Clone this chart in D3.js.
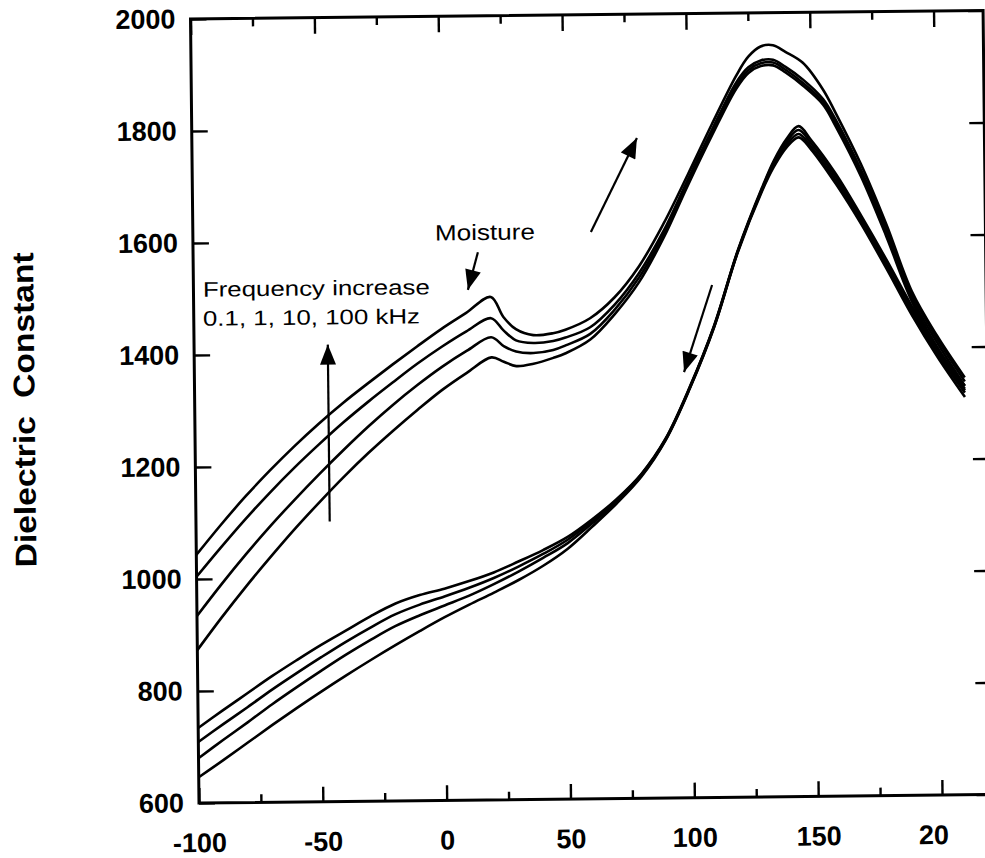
<!DOCTYPE html>
<html>
<head>
<meta charset="utf-8">
<script src="https://cdn.jsdelivr.net/npm/d3@7"></script>
<style>
  body { margin: 0; background: #fff; }
  svg { display: block; }
  text { font-family: "Liberation Sans", Arial, Helvetica, sans-serif; fill: #000; }
</style>
</head>
<body>
<div id="chart"></div>
<script>
// heating run (upper family), temperature in C
var heatT = [-100, -90, -80, -70, -60, -50, -40, -30, -20, -10, 0, 10, 20, 25, 30, 37, 45, 50, 60, 70,
    80, 90, 100, 110, 120, 125, 130, 135, 140, 147, 155, 160, 170, 180, 190, 200, 211]
var heat01 = [1043, 1096, 1146, 1192, 1235, 1275, 1312, 1346, 1379, 1411, 1442, 1470, 1498, 1462, 1440, 1429, 1432, 1438, 1458, 1495,
    1550, 1625, 1712, 1802, 1888, 1922, 1940, 1942, 1930, 1910, 1862, 1820, 1728, 1620, 1500, 1420, 1345]
var heat1 = [1004, 1056, 1106, 1153, 1197, 1238, 1277, 1313, 1347, 1380, 1410, 1437, 1460, 1438, 1420, 1415, 1418, 1424, 1442, 1482,
    1538, 1612, 1703, 1792, 1876, 1903, 1915, 1916, 1903, 1880, 1845, 1808, 1718, 1612, 1495, 1415, 1338]
var heat10 = [934, 990, 1043, 1093, 1140, 1185, 1228, 1269, 1307, 1342, 1374, 1402, 1426, 1410, 1400, 1397, 1402, 1410, 1430, 1473,
    1530, 1606, 1698, 1787, 1870, 1898, 1910, 1911, 1898, 1874, 1840, 1802, 1712, 1605, 1488, 1408, 1330]
var heat100 = [873, 931, 986, 1038, 1088, 1135, 1180, 1222, 1261, 1298, 1333, 1363, 1390, 1382, 1374, 1378, 1388, 1396, 1420, 1465,
    1522, 1600, 1693, 1782, 1865, 1893, 1905, 1906, 1893, 1869, 1835, 1796, 1706, 1598, 1482, 1400, 1322]

// cooling run (lower family)
var coolT = [-100, -90, -80, -70, -60, -50, -40, -30, -20, -10, 0, 10, 20, 30, 40, 50, 60, 70, 80, 90,
    100, 110, 120, 130, 135, 140, 145, 150, 160, 170, 180, 190, 200, 211]
var cool01 = [734, 765, 795, 825, 853, 880, 905, 930, 952, 967, 978, 991, 1006, 1025, 1045, 1068, 1099, 1135, 1179, 1242,
    1334, 1442, 1577, 1688, 1737, 1774, 1797, 1772, 1710, 1635, 1556, 1473, 1398, 1330]
var cool1 = [709, 740, 770, 801, 830, 858, 885, 910, 933, 950, 964, 979, 996, 1016, 1038, 1063, 1096, 1133, 1178, 1241,
    1333, 1441, 1576, 1686, 1734, 1769, 1790, 1766, 1704, 1630, 1550, 1468, 1393, 1325]
var cool10 = [680, 712, 743, 775, 805, 834, 862, 888, 912, 931, 948, 965, 985, 1007, 1031, 1057, 1092, 1130, 1176, 1240,
    1332, 1440, 1575, 1684, 1730, 1764, 1783, 1760, 1698, 1625, 1545, 1462, 1388, 1318]
var cool100 = [646, 676, 707, 738, 768, 797, 825, 852, 878, 903, 927, 949, 970, 992, 1017, 1047, 1086, 1127, 1174, 1239,
    1331, 1439, 1574, 1682, 1726, 1759, 1777, 1755, 1692, 1620, 1540, 1457, 1383, 1310]

var xMajor = [-100, -50, 0, 50, 100, 150, 200]
var xMinor = [-75, -25, 25, 75, 125, 175]
var yTicks = [600, 800, 1000, 1200, 1400, 1600, 1800, 2000]

var dimensions = {
    width: 985,
    height: 858,
    margin: { top: 19, left: 199 },
    plotW: 792.6,
    plotH: 784
}

var svg = d3.select("#chart")
    .append("svg")
    .attr("width", dimensions.width)
    .attr("height", dimensions.height)

// the scanned figure is tilted a little
var tilt = svg.append("g")
    .attr("transform", "rotate(-0.62," + dimensions.margin.left + "," + (dimensions.margin.top + dimensions.plotH) + ")")

var g = tilt.append("g")
    .attr("transform", "translate(" + dimensions.margin.left + "," + dimensions.margin.top + ")")

var x = d3.scaleLinear().domain([-100, 220]).range([0, dimensions.plotW])
var y = d3.scaleLinear().domain([600, 2000]).range([dimensions.plotH, 0])

// axes, ticks point inward
function styleAxis(sel) {
    sel.select(".domain").remove()
    sel.selectAll("line").attr("stroke", "#000").attr("stroke-width", 2.4)
    sel.selectAll("text").style("font-size", "27px").style("font-weight", "bold")
}

g.append("g")
    .attr("transform", "translate(0," + dimensions.plotH + ")")
    .call(d3.axisBottom(x).tickValues(xMajor).tickSize(-15).tickPadding(30)
        .tickFormat(function (d) { return d == 200 ? "20" : d }))
    .call(styleAxis)
    .selectAll("text")
    .attr("dx", function (d) { return d == 200 ? -9 : 0 })

g.append("g")
    .attr("transform", "translate(0," + dimensions.plotH + ")")
    .call(d3.axisBottom(x).tickValues(xMinor).tickSize(-8).tickFormat(""))
    .call(styleAxis)

g.append("g")
    .call(d3.axisTop(x).tickValues(xMajor).tickSize(-16).tickFormat(""))
    .call(styleAxis)

g.append("g")
    .call(d3.axisTop(x).tickValues(xMinor).tickSize(-8).tickFormat(""))
    .call(styleAxis)

g.append("g")
    .call(d3.axisLeft(y).tickValues(yTicks).tickSize(-16).tickPadding(15).tickFormat(d3.format("d")))
    .call(styleAxis)

g.append("g")
    .attr("transform", "translate(" + dimensions.plotW + ",0)")
    .call(d3.axisRight(y).tickValues(yTicks).tickSize(-15).tickFormat(""))
    .call(styleAxis)

// frame
g.append("rect")
    .attr("x", 0).attr("y", 0)
    .attr("width", dimensions.plotW).attr("height", dimensions.plotH)
    .attr("fill", "none").attr("stroke", "#000").attr("stroke-width", 3)

// curves
var line = d3.line()
    .x(function (d) { return x(d[0]) })
    .y(function (d) { return y(d[1]) })
    .curve(d3.curveCatmullRom.alpha(0.5))

var series = [
    { t: heatT, v: heat01 }, { t: heatT, v: heat1 }, { t: heatT, v: heat10 }, { t: heatT, v: heat100 },
    { t: coolT, v: cool01 }, { t: coolT, v: cool1 }, { t: coolT, v: cool10 }, { t: coolT, v: cool100 }
]

g.selectAll("path.curve")
    .data(series)
    .enter()
    .append("path")
    .attr("class", "curve")
    .attr("d", function (s) { return line(s.t.map(function (t, i) { return [t, s.v[i]] })) })
    .attr("fill", "none")
    .attr("stroke", "#000")
    .attr("stroke-width", 2.6)

// arrows
svg.append("defs").append("marker")
    .attr("id", "head")
    .attr("markerUnits", "userSpaceOnUse")
    .attr("viewBox", "0 0 20 16")
    .attr("refX", 20).attr("refY", 8)
    .attr("markerWidth", 22).attr("markerHeight", 16)
    .attr("orient", "auto")
    .append("path")
    .attr("d", "M0,0 L20,8 L0,16 Z")
    .attr("fill", "#000")

var arrows = [
    [[-46, 1100], [-46, 1416]],
    [[15, 1578], [10.8, 1511]],
    [[60.7, 1612], [79.7, 1779]],
    [[109.4, 1515], [97.7, 1360]]
]

g.selectAll("line.arrow")
    .data(arrows)
    .enter()
    .append("line")
    .attr("class", "arrow")
    .attr("x1", function (d) { return x(d[0][0]) })
    .attr("y1", function (d) { return y(d[0][1]) })
    .attr("x2", function (d) { return x(d[1][0]) })
    .attr("y2", function (d) { return y(d[1][1]) })
    .attr("stroke", "#000")
    .attr("stroke-width", 2.2)
    .attr("marker-end", "url(#head)")

// labels
g.append("text")
    .attr("x", x(-2.3)).attr("y", y(1600))
    .attr("textLength", 100).attr("lengthAdjust", "spacingAndGlyphs")
    .style("font-size", "22px")
    .text("Moisture")

g.append("text")
    .attr("x", x(-96.2)).attr("y", y(1504))
    .attr("textLength", 227).attr("lengthAdjust", "spacingAndGlyphs")
    .style("font-size", "21px")
    .text("Frequency increase")

g.append("text")
    .attr("x", x(-96.3)).attr("y", y(1452))
    .attr("textLength", 217).attr("lengthAdjust", "spacingAndGlyphs")
    .style("font-size", "21px")
    .text("0.1, 1, 10, 100 kHz")

g.append("text")
    .attr("transform", "translate(-160,389) rotate(-90)")
    .attr("text-anchor", "middle")
    .attr("textLength", 315).attr("lengthAdjust", "spacingAndGlyphs")
    .style("font-size", "30px")
    .style("font-weight", "bold")
    .style("word-spacing", "8px")
    .text("Dielectric Constant")
</script>
</body>
</html>
